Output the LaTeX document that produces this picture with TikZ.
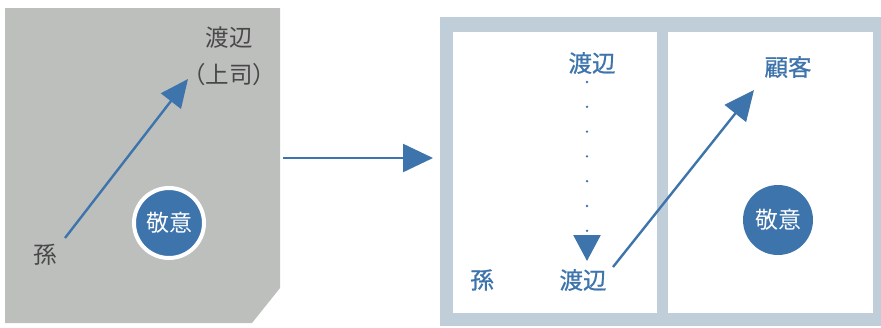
\documentclass[tikz,border=0pt]{standalone}
\usepackage{fontspec}
\newfontfamily\jpfont{Noto Sans CJK JP}
\newfontfamily\jpfontb[FakeBold=0.8]{Noto Sans CJK JP}
\usetikzlibrary{arrows.meta}
\definecolor{panelgray}{RGB}{189,191,189}
\definecolor{ablue}{RGB}{62,116,172}
\definecolor{framebg}{RGB}{192,206,217}
\definecolor{txtgray}{RGB}{72,72,72}
\tikzset{
  lbl/.style={inner sep=0pt},
  graylbl/.style={lbl, text=txtgray, font=\jpfont\fontsize{23.5}{25}\selectfont},
  bluelbl/.style={lbl, text=ablue, font=\jpfontb\fontsize{23.5}{25}\selectfont},
  respect/.style={circle, fill=ablue, minimum size=70pt, inner sep=0pt,
    font=\jpfont\fontsize{23}{25}\selectfont, text=white},
  bigarrow/.style={draw=ablue, line width=2.4pt, -{Triangle[length=28pt,width=25pt]}},
}
\begin{document}
\begin{tikzpicture}[x=1pt,y=-1pt]
\useasboundingbox (0,0) rectangle (881,327);
% left panel
\fill[panelgray] (5,8) -- (280,8) -- (280,288) -- (252,323) -- (5,323) -- cycle;
\node[graylbl] (w1) at (229,38) {渡辺};
\node[graylbl] (boss) at (229,75) {（上司）};
\node[graylbl] (son1) at (45,255) {孫};
\node[respect, draw=white, line width=4pt] (k1) at (169,223) {敬意};
\coordinate (a1s) at (65,238);
\coordinate (a1e) at (188,79);
\draw[bigarrow] (a1s) -- (a1e);
% middle arrow
\coordinate (m1) at (283,158);
\coordinate (m2) at (433,158);
\draw[bigarrow, -{Triangle[length=30pt,width=28pt]}] (m1) -- (m2);
% right panel
\fill[framebg] (440,17) rectangle (881,326);
\fill[white] (453,32) rectangle (657,313);
\fill[white] (668,32) rectangle (873,313);
\node[bluelbl] (w2) at (592,63) {渡辺};
\node[bluelbl] (w3) at (583,280) {渡辺};
\node[bluelbl] (son2) at (482,280) {孫};
\node[bluelbl] (cust) at (788,67) {顧客};
\node[respect] (k2) at (778,220) {敬意};
\coordinate (d1) at (587,82);
\coordinate (d2) at (587,261);
\draw[ablue, line width=2.6pt, line cap=round, dash pattern=on 0pt off 24.8pt,
  -{Triangle[length=26pt,width=27pt]}] (d1) -- (d2);
\coordinate (a2s) at (613,267);
\coordinate (a2e) at (754,90);
\draw[bigarrow, -{Triangle[length=30pt,width=27pt]}] (a2s) -- (a2e);
\end{tikzpicture}
\end{document}
